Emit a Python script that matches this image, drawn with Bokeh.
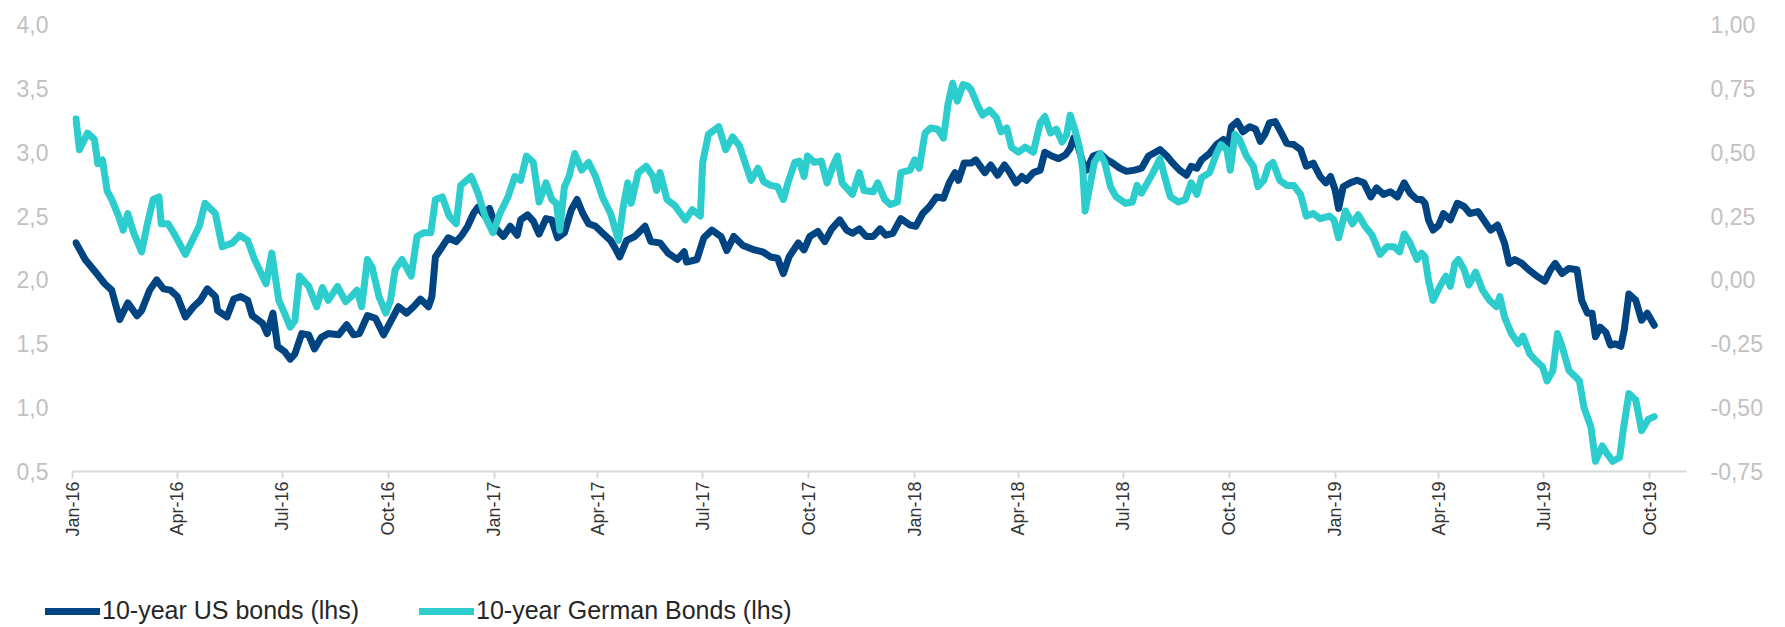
import math
import pandas as pd
from bokeh.plotting import figure
from bokeh.layouts import column
from bokeh.models import Range1d, LinearAxis, FixedTicker, Legend, LegendItem, ColumnDataSource
from bokeh.embed import file_html
from bokeh.resources import INLINE

# ---------------- data ----------------
us_dates = [
    "2016-01-04", "2016-01-12", "2016-01-22", "2016-01-29", "2016-02-04", "2016-02-11", "2016-02-18",
    "2016-02-26", "2016-03-01", "2016-03-08", "2016-03-14", "2016-03-20", "2016-03-26", "2016-04-01",
    "2016-04-08", "2016-04-15", "2016-04-21", "2016-04-27", "2016-05-04", "2016-05-06", "2016-05-14",
    "2016-05-20", "2016-05-26", "2016-06-01", "2016-06-05", "2016-06-14", "2016-06-18", "2016-06-23",
    "2016-06-27", "2016-07-03", "2016-07-08", "2016-07-12", "2016-07-18", "2016-07-24", "2016-07-29",
    "2016-08-04", "2016-08-10", "2016-08-19", "2016-08-26", "2016-09-01", "2016-09-06", "2016-09-13",
    "2016-09-20", "2016-09-27", "2016-10-04", "2016-10-10", "2016-10-17", "2016-10-23", "2016-10-29",
    "2016-11-05", "2016-11-08", "2016-11-11", "2016-11-17", "2016-11-22", "2016-11-29", "2016-12-04",
    "2016-12-09", "2016-12-14", "2016-12-18", "2016-12-24", "2016-12-28", "2017-01-03", "2017-01-09",
    "2017-01-15", "2017-01-21", "2017-01-24", "2017-01-30", "2017-02-04", "2017-02-09", "2017-02-15",
    "2017-02-20", "2017-02-25", "2017-03-03", "2017-03-09", "2017-03-14", "2017-03-19", "2017-03-24",
    "2017-03-30", "2017-04-06", "2017-04-12", "2017-04-16", "2017-04-20", "2017-04-26", "2017-05-03",
    "2017-05-12", "2017-05-17", "2017-05-25", "2017-06-01", "2017-06-09", "2017-06-15", "2017-06-17",
    "2017-06-26", "2017-07-02", "2017-07-09", "2017-07-17", "2017-07-22", "2017-07-28", "2017-08-05",
    "2017-08-15", "2017-08-22", "2017-08-29", "2017-09-04", "2017-09-09", "2017-09-14", "2017-09-22",
    "2017-09-27", "2017-10-02", "2017-10-09", "2017-10-15", "2017-10-21", "2017-10-28", "2017-11-03",
    "2017-11-08", "2017-11-14", "2017-11-20", "2017-11-26", "2017-12-02", "2017-12-07", "2017-12-13",
    "2017-12-20", "2017-12-28", "2018-01-02", "2018-01-08", "2018-01-14", "2018-01-20", "2018-01-26",
    "2018-01-31", "2018-02-05", "2018-02-08", "2018-02-13", "2018-02-19", "2018-02-23", "2018-03-03",
    "2018-03-08", "2018-03-14", "2018-03-20", "2018-03-24", "2018-03-30", "2018-04-04", "2018-04-08",
    "2018-04-14", "2018-04-20", "2018-04-24", "2018-04-30", "2018-05-06", "2018-05-12", "2018-05-16",
    "2018-05-19", "2018-05-23", "2018-05-27", "2018-05-30", "2018-06-05", "2018-06-11", "2018-06-17",
    "2018-06-22", "2018-06-28", "2018-07-04", "2018-07-11", "2018-07-17", "2018-07-23", "2018-07-29",
    "2018-08-02", "2018-08-08", "2018-08-13", "2018-08-19", "2018-08-25", "2018-08-29", "2018-09-03",
    "2018-09-07", "2018-09-14", "2018-09-20", "2018-09-26", "2018-09-30", "2018-10-03", "2018-10-08",
    "2018-10-13", "2018-10-19", "2018-10-24", "2018-10-28", "2018-11-01", "2018-11-05", "2018-11-10",
    "2018-11-16", "2018-11-20", "2018-11-26", "2018-12-02", "2018-12-07", "2018-12-13", "2018-12-19",
    "2018-12-24", "2018-12-28", "2019-01-01", "2019-01-04", "2019-01-08", "2019-01-14", "2019-01-20",
    "2019-01-26", "2019-02-01", "2019-02-06", "2019-02-12", "2019-02-18", "2019-02-24", "2019-03-02",
    "2019-03-07", "2019-03-13", "2019-03-17", "2019-03-20", "2019-03-23", "2019-03-27", "2019-04-01",
    "2019-04-05", "2019-04-11", "2019-04-17", "2019-04-23", "2019-04-28", "2019-05-05", "2019-05-10",
    "2019-05-16", "2019-05-22", "2019-05-28", "2019-06-01", "2019-06-06", "2019-06-12", "2019-06-18",
    "2019-06-25", "2019-07-02", "2019-07-07", "2019-07-11", "2019-07-17", "2019-07-23", "2019-07-30",
    "2019-08-03", "2019-08-08", "2019-08-12", "2019-08-15", "2019-08-19", "2019-08-24", "2019-08-28",
    "2019-09-01", "2019-09-06", "2019-09-09", "2019-09-13", "2019-09-19", "2019-09-24", "2019-09-29",
    "2019-10-05",
]
us_values = [
    2.29, 2.16, 2.05, 1.97, 1.92, 1.69, 1.82,
    1.72, 1.76, 1.92, 2.00, 1.93, 1.92, 1.87,
    1.71, 1.79, 1.84, 1.93, 1.87, 1.76, 1.71,
    1.85, 1.87, 1.84, 1.72, 1.66, 1.58, 1.74,
    1.48, 1.44, 1.38, 1.42, 1.58, 1.57, 1.46,
    1.55, 1.58, 1.57, 1.65, 1.57, 1.58, 1.72,
    1.70, 1.57, 1.69, 1.79, 1.74, 1.79, 1.85,
    1.79, 1.87, 2.18, 2.26, 2.33, 2.30, 2.35,
    2.42, 2.52, 2.57, 2.50, 2.56, 2.40, 2.34,
    2.42, 2.35, 2.47, 2.51, 2.46, 2.36, 2.48,
    2.47, 2.33, 2.37, 2.55, 2.63, 2.52, 2.44,
    2.42, 2.36, 2.31, 2.25, 2.18, 2.31, 2.34,
    2.42, 2.30, 2.29, 2.21, 2.16, 2.22, 2.14,
    2.16, 2.33, 2.39, 2.34, 2.23, 2.34, 2.27,
    2.235, 2.22, 2.18, 2.17, 2.05, 2.18, 2.29,
    2.235, 2.34, 2.38, 2.30, 2.40, 2.47, 2.39,
    2.365, 2.40, 2.34, 2.34, 2.40, 2.35, 2.365,
    2.48, 2.43, 2.42, 2.52, 2.575, 2.65, 2.64,
    2.76, 2.84, 2.78, 2.915, 2.915, 2.94, 2.84,
    2.90, 2.82, 2.90, 2.85, 2.76, 2.81, 2.78,
    2.84, 2.86, 3.00, 2.97, 2.95, 2.98, 3.03,
    3.11, 3.045, 2.915, 2.86, 2.97, 2.99, 2.94,
    2.915, 2.875, 2.85, 2.86, 2.875, 2.97, 3.00,
    3.02, 2.97, 2.915, 2.86, 2.82, 2.89, 2.875,
    2.94, 2.99, 3.06, 3.10, 3.045, 3.20, 3.24,
    3.16, 3.20, 3.18, 3.085, 3.14, 3.23, 3.24,
    3.14, 3.07, 3.06, 3.02, 2.89, 2.915, 2.81,
    2.76, 2.81, 2.705, 2.56, 2.73, 2.76, 2.78,
    2.76, 2.65, 2.72, 2.67, 2.69, 2.65, 2.76,
    2.68, 2.63, 2.63, 2.60, 2.47, 2.39, 2.43,
    2.52, 2.47, 2.60, 2.575, 2.52, 2.535, 2.47,
    2.39, 2.43, 2.29, 2.13, 2.16, 2.13, 2.08,
    2.03, 1.99, 2.08, 2.13, 2.05, 2.09, 2.08,
    1.84, 1.74, 1.74, 1.555, 1.63, 1.59, 1.49,
    1.50, 1.48, 1.61, 1.89, 1.84, 1.685, 1.74,
    1.645,
]

de_dates = [
    "2016-01-04", "2016-01-07", "2016-01-14", "2016-01-20", "2016-01-23", "2016-01-27", "2016-01-31",
    "2016-02-04", "2016-02-10", "2016-02-14", "2016-02-18", "2016-02-23", "2016-03-01", "2016-03-06",
    "2016-03-11", "2016-03-16", "2016-03-18", "2016-03-24", "2016-03-30", "2016-04-08", "2016-04-14",
    "2016-04-20", "2016-04-25", "2016-05-04", "2016-05-10", "2016-05-19", "2016-05-25", "2016-06-01",
    "2016-06-07", "2016-06-17", "2016-06-22", "2016-06-28", "2016-07-03", "2016-07-08", "2016-07-12",
    "2016-07-16", "2016-07-24", "2016-07-31", "2016-08-05", "2016-08-10", "2016-08-18", "2016-08-25",
    "2016-08-30", "2016-09-04", "2016-09-08", "2016-09-13", "2016-09-17", "2016-09-23", "2016-09-29",
    "2016-10-03", "2016-10-07", "2016-10-13", "2016-10-21", "2016-10-26", "2016-11-01", "2016-11-07",
    "2016-11-11", "2016-11-17", "2016-11-23", "2016-11-29", "2016-12-03", "2016-12-12", "2016-12-18",
    "2016-12-24", "2016-12-31", "2017-01-06", "2017-01-13", "2017-01-19", "2017-01-24", "2017-01-29",
    "2017-02-04", "2017-02-09", "2017-02-15", "2017-02-20", "2017-02-24", "2017-02-27", "2017-03-03",
    "2017-03-07", "2017-03-12", "2017-03-18", "2017-03-24", "2017-03-30", "2017-04-05", "2017-04-12",
    "2017-04-19", "2017-04-23", "2017-04-27", "2017-04-30", "2017-05-06", "2017-05-13", "2017-05-19",
    "2017-05-22", "2017-05-25", "2017-05-31", "2017-06-07", "2017-06-16", "2017-06-22", "2017-06-29",
    "2017-07-01", "2017-07-06", "2017-07-15", "2017-07-21", "2017-07-27", "2017-08-02", "2017-08-06",
    "2017-08-12", "2017-08-18", "2017-08-23", "2017-08-29", "2017-09-04", "2017-09-09", "2017-09-13",
    "2017-09-19", "2017-09-23", "2017-09-27", "2017-09-30", "2017-10-06", "2017-10-12", "2017-10-17",
    "2017-10-22", "2017-10-26", "2017-10-30", "2017-11-08", "2017-11-14", "2017-11-18", "2017-11-26",
    "2017-11-30", "2017-12-06", "2017-12-11", "2017-12-17", "2017-12-20", "2017-12-28", "2018-01-01",
    "2018-01-05", "2018-01-10", "2018-01-15", "2018-01-21", "2018-01-26", "2018-01-30", "2018-02-03",
    "2018-02-07", "2018-02-12", "2018-02-16", "2018-02-19", "2018-02-25", "2018-03-01", "2018-03-07",
    "2018-03-13", "2018-03-17", "2018-03-22", "2018-03-26", "2018-04-01", "2018-04-07", "2018-04-14",
    "2018-04-20", "2018-04-24", "2018-04-29", "2018-05-04", "2018-05-09", "2018-05-13", "2018-05-16",
    "2018-05-20", "2018-05-24", "2018-05-27", "2018-05-29", "2018-06-02", "2018-06-06", "2018-06-11",
    "2018-06-15", "2018-06-20", "2018-06-25", "2018-07-03", "2018-07-09", "2018-07-13", "2018-07-17",
    "2018-07-22", "2018-07-27", "2018-08-02", "2018-08-06", "2018-08-11", "2018-08-18", "2018-08-24",
    "2018-08-29", "2018-09-03", "2018-09-07", "2018-09-14", "2018-09-20", "2018-09-24", "2018-09-29",
    "2018-10-02", "2018-10-06", "2018-10-10", "2018-10-16", "2018-10-22", "2018-10-26", "2018-10-31",
    "2018-11-04", "2018-11-08", "2018-11-14", "2018-11-20", "2018-11-26", "2018-12-02", "2018-12-07",
    "2018-12-13", "2018-12-19", "2018-12-27", "2018-12-31", "2019-01-04", "2019-01-10", "2019-01-16",
    "2019-01-21", "2019-01-27", "2019-02-02", "2019-02-09", "2019-02-15", "2019-02-21", "2019-02-26",
    "2019-03-02", "2019-03-07", "2019-03-13", "2019-03-17", "2019-03-20", "2019-03-23", "2019-03-27",
    "2019-04-02", "2019-04-07", "2019-04-11", "2019-04-15", "2019-04-18", "2019-04-23", "2019-04-27",
    "2019-05-03", "2019-05-09", "2019-05-15", "2019-05-21", "2019-05-24", "2019-05-28", "2019-06-03",
    "2019-06-09", "2019-06-13", "2019-06-19", "2019-06-24", "2019-06-30", "2019-07-04", "2019-07-09",
    "2019-07-13", "2019-07-17", "2019-07-23", "2019-08-01", "2019-08-05", "2019-08-11", "2019-08-15",
    "2019-08-21", "2019-08-25", "2019-08-30", "2019-09-05", "2019-09-08", "2019-09-13", "2019-09-19",
    "2019-09-24", "2019-09-30", "2019-10-05",
]
de_values = [
    0.63, 0.51, 0.575, 0.55, 0.455, 0.47, 0.35,
    0.315, 0.25, 0.195, 0.26, 0.185, 0.11, 0.22,
    0.315, 0.325, 0.22, 0.22, 0.175, 0.10, 0.155,
    0.21, 0.30, 0.26, 0.13, 0.145, 0.175, 0.155,
    0.08, -0.015, 0.105, -0.08, -0.13, -0.185, -0.16,
    0.015, -0.025, -0.105, -0.03, -0.08, -0.025, -0.085,
    -0.065, -0.04, -0.105, 0.08, 0.05, -0.065, -0.13,
    -0.08, 0.04, 0.08, 0.015, 0.17, 0.185, 0.185,
    0.315, 0.325, 0.25, 0.22, 0.37, 0.405, 0.34,
    0.25, 0.185, 0.26, 0.325, 0.405, 0.39, 0.485,
    0.46, 0.305, 0.38, 0.315, 0.30, 0.195, 0.365,
    0.405, 0.495, 0.43, 0.46, 0.405, 0.325, 0.26,
    0.155, 0.285, 0.38, 0.30, 0.42, 0.445, 0.405,
    0.35, 0.42, 0.315, 0.29, 0.235, 0.275, 0.25,
    0.46, 0.57, 0.60, 0.51, 0.56, 0.525, 0.47,
    0.39, 0.4375, 0.385, 0.37, 0.365, 0.315, 0.38,
    0.46, 0.465, 0.405, 0.485, 0.46, 0.465, 0.38,
    0.445, 0.485, 0.38, 0.335, 0.42, 0.35, 0.345,
    0.38, 0.315, 0.295, 0.305, 0.42, 0.43, 0.47,
    0.4375, 0.575, 0.595, 0.59, 0.555, 0.69, 0.77,
    0.70, 0.765, 0.76, 0.745, 0.68, 0.645, 0.665,
    0.635, 0.58, 0.595, 0.52, 0.50, 0.52, 0.50,
    0.615, 0.64, 0.575, 0.59, 0.54, 0.57, 0.645,
    0.59, 0.52, 0.43, 0.27, 0.365, 0.46, 0.495,
    0.46, 0.365, 0.325, 0.30, 0.305, 0.37, 0.34,
    0.38, 0.42, 0.475, 0.405, 0.325, 0.305, 0.315,
    0.38, 0.335, 0.40, 0.42, 0.495, 0.53, 0.51,
    0.43, 0.57, 0.55, 0.485, 0.445, 0.365, 0.39,
    0.445, 0.46, 0.39, 0.37, 0.37, 0.335, 0.25,
    0.26, 0.24, 0.25, 0.235, 0.165, 0.27, 0.22,
    0.255, 0.21, 0.175, 0.10, 0.13, 0.13, 0.11,
    0.18, 0.145, 0.08, 0.105, 0.09, 0.0, -0.08,
    -0.025, 0.015, -0.025, 0.065, 0.08, 0.04, -0.02,
    0.03, -0.04, -0.08, -0.105, -0.065, -0.145, -0.21,
    -0.25, -0.22, -0.29, -0.315, -0.34, -0.395, -0.355,
    -0.21, -0.26, -0.355, -0.395, -0.50, -0.575, -0.71,
    -0.65, -0.68, -0.71, -0.695, -0.59, -0.445, -0.47,
    -0.59, -0.545, -0.535,
]

x_tick_dates = [
    "2016-01-01", "2016-04-01", "2016-07-01", "2016-10-01",
    "2017-01-01", "2017-04-01", "2017-07-01", "2017-10-01",
    "2018-01-01", "2018-04-01", "2018-07-01", "2018-10-01",
    "2019-01-01", "2019-04-01", "2019-07-01", "2019-10-01",
]
x_tick_labels = [
    "Jan-16", "Apr-16", "Jul-16", "Oct-16",
    "Jan-17", "Apr-17", "Jul-17", "Oct-17",
    "Jan-18", "Apr-18", "Jul-18", "Oct-18",
    "Jan-19", "Apr-19", "Jul-19", "Oct-19",
]
left_ticks = [0.5, 1.0, 1.5, 2.0, 2.5, 3.0, 3.5, 4.0]
left_tick_labels = ["0,5", "1,0", "1,5", "2,0", "2,5", "3,0", "3,5", "4,0"]
right_ticks = [-0.75, -0.5, -0.25, 0.0, 0.25, 0.5, 0.75, 1.0]
right_tick_labels = ["-0,75", "-0,50", "-0,25", "0,00", "0,25", "0,50", "0,75", "1,00"]

series_names = ["10-year US bonds (lhs)", "10-year German Bonds (lhs)"]
x_start, x_end = "2016-01-01", "2019-11-02"


# ---------------- build ----------------
def ms(s):
    return int(pd.Timestamp(s).value // 10**6)


FONT = "Liberation Sans"
NAVY = "#004481"
AQUA = "#2DCCCD"

p = figure(frame_width=1614, frame_height=447, output_backend="svg", toolbar_location=None,
           x_range=Range1d(ms(x_start), ms(x_end)), y_range=Range1d(0.5, 4.0),
           min_border_left=72, min_border_right=99, min_border_top=24, min_border_bottom=90)
p.extra_y_ranges = {"de": Range1d(-0.75, 1.0)}
p.outline_line_color = None
p.xgrid.visible = False
p.ygrid.visible = False
p.background_fill_color = "white"
p.border_fill_color = "white"

us_src = ColumnDataSource(dict(x=[ms(d) for d in us_dates], y=us_values))
de_src = ColumnDataSource(dict(x=[ms(d) for d in de_dates], y=de_values))

r_us = p.line("x", "y", source=us_src, line_width=7, line_color=NAVY, line_join="round", line_cap="round")
r_de = p.line("x", "y", source=de_src, line_width=7, line_color=AQUA, line_join="round", line_cap="round",
              y_range_name="de")

# x axis
xa = p.xaxis[0]
x_ticks_ms = [ms(d) for d in x_tick_dates]
xa.ticker = FixedTicker(ticks=x_ticks_ms)
xa.major_label_overrides = {t: lab for t, lab in zip(x_ticks_ms, x_tick_labels)}
xa.major_label_orientation = math.pi / 2
xa.axis_line_color = "#d9d9d9"
xa.axis_line_width = 2
xa.major_tick_line_color = "#d9d9d9"
xa.major_tick_line_width = 2
xa.major_tick_in = 0
xa.major_tick_out = 7
xa.minor_tick_line_color = None
xa.major_label_standoff = 3
xa.major_label_text_font = FONT
xa.major_label_text_font_size = "18px"
xa.major_label_text_color = "#333333"

# left axis
ya = p.yaxis[0]
ya.ticker = FixedTicker(ticks=left_ticks)
ya.major_label_overrides = {t: lab for t, lab in zip(left_ticks, left_tick_labels)}
ya.axis_line_color = None
ya.major_tick_line_color = None
ya.minor_tick_line_color = None
ya.major_tick_out = 0
ya.major_label_standoff = 24
ya.major_label_text_font = FONT
ya.major_label_text_font_size = "23px"
ya.major_label_text_color = "#c4c0c0"

# right axis
ra = LinearAxis(y_range_name="de", ticker=FixedTicker(ticks=right_ticks))
ra.major_label_overrides = {t: lab for t, lab in zip(right_ticks, right_tick_labels)}
ra.axis_line_color = None
ra.major_tick_line_color = None
ra.minor_tick_line_color = None
ra.major_tick_out = 0
ra.major_label_standoff = 24
ra.major_label_text_font = FONT
ra.major_label_text_font_size = "23px"
ra.major_label_text_color = "#c4c0c0"
p.add_layout(ra, "right")

# ---- legend strip below the chart ----
leg = figure(width=1785, height=64, output_backend="svg", toolbar_location=None,
             x_range=Range1d(0, 1), y_range=Range1d(0, 1),
             min_border_left=0, min_border_right=0, min_border_top=0, min_border_bottom=0,
             x_axis_type=None, y_axis_type=None)
leg.outline_line_color = None
leg.xgrid.visible = False
leg.ygrid.visible = False
leg.border_fill_color = "white"
# swatch-only renderers: their points sit outside the strip's visible range
l_us = leg.line(x=[5, 6], y=[5, 6], line_width=7, line_color=NAVY, line_cap="round")
l_de = leg.line(x=[5, 6], y=[5, 6], line_width=7, line_color=AQUA, line_cap="round")

legend = Legend(
    items=[LegendItem(label=series_names[0], renderers=[l_us]),
           LegendItem(label=series_names[1], renderers=[l_de])],
    orientation="horizontal", location=(45, 0),
    label_text_font=FONT, label_text_font_size="25px", label_text_color="#262626",
    glyph_width=55, glyph_height=20, label_standoff=2, spacing=60,
    padding=0, margin=0, border_line_color=None, background_fill_alpha=0,
)
leg.add_layout(legend, "center")

for fig in (p, leg):
    try:
        fig.frame_align = False
    except Exception:
        pass

layout = column(p, leg, spacing=0)
open("out.html", "w").write(file_html(layout, INLINE))
